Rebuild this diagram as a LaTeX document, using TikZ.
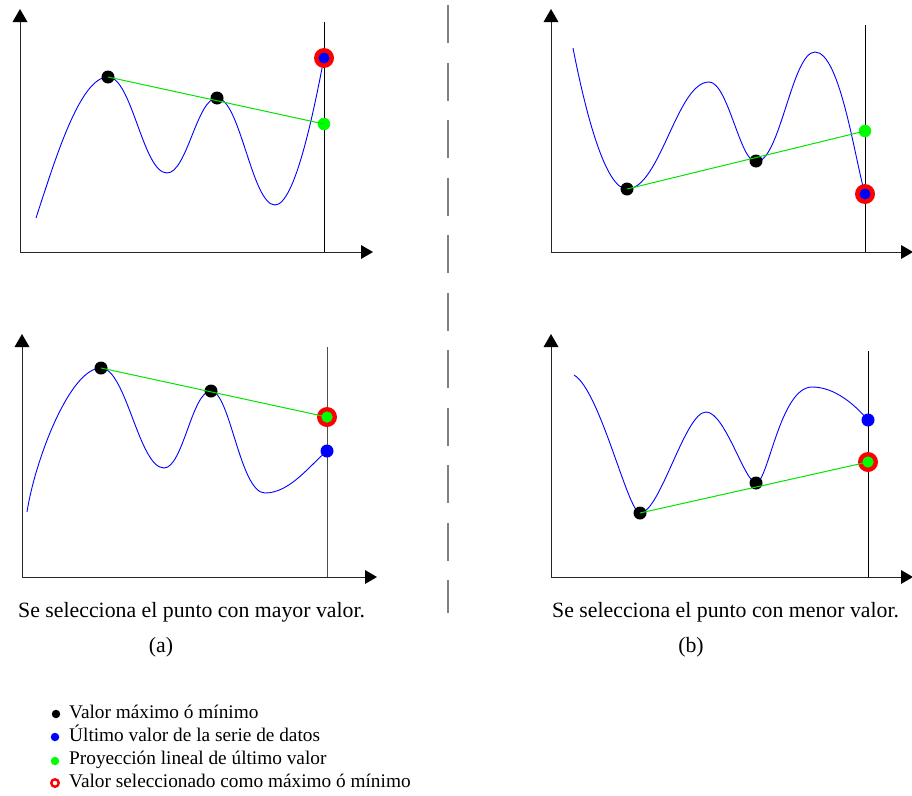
\documentclass[tikz,border=0pt]{standalone}
\usepackage{fontspec}
\setmainfont{Liberation Serif}
\tikzset{
  axisline/.style={draw=black!85, line width=0.9pt},
  arrowhead/.style={fill=black},
  curve/.style={draw=blue, line width=0.9pt},
  projline/.style={draw=green!90!black, line width=1pt},
  blackdot/.style={circle, fill=black, inner sep=0pt, minimum size=13pt},
  bluedot/.style={circle, fill=blue, inner sep=0pt, minimum size=11pt},
  greendot/.style={circle, fill=green, inner sep=0pt, minimum size=12.5pt},
  redring/.style={circle, fill=red, inner sep=0pt, minimum size=20pt},
  captiontext/.style={inner sep=0pt, anchor=base west, font=\fontsize{21.8}{25}\selectfont},
  labeltext/.style={inner sep=0pt, anchor=base, font=\fontsize{21.8}{25}\selectfont},
  legendtext/.style={inner sep=0pt, anchor=base west, font=\fontsize{19.3}{23}\selectfont},
  legdot/.style={circle, inner sep=0pt, minimum size=8.5pt},
}
\begin{document}
\begin{tikzpicture}[x=1pt,y=-1pt]
\useasboundingbox[fill=white] (0,0) rectangle (912,795);

% ---------- separator ----------
\coordinate (sepT) at (448,5);
\coordinate (sepB) at (448,613);
\draw[draw=black!50, line width=1.6pt, dash pattern=on 38pt off 19.5pt] (sepT) -- (sepB);

% ================= Panel (a) top =================
\coordinate (aTo) at (20,252);
\coordinate (aTy) at (20,22);
\coordinate (aTx) at (361,252);
\draw[axisline] (aTy) -- (aTo) -- (aTx);
\fill[arrowhead] (12.5,22) -- (27.5,22) -- (20,9) -- cycle;
\fill[arrowhead] (361,245) -- (361,259) -- (373,252) -- cycle;
\coordinate (aTvt) at (324,22);
\coordinate (aTvb) at (324,252);
\draw[draw=black, line width=0.9pt] (aTvt) -- (aTvb);
\draw[curve] (36,218) .. controls (55,160) and (80,77) .. (108,77)
  .. controls (132,77) and (143,173) .. (167,173)
  .. controls (187,173) and (197,98) .. (217,98)
  .. controls (240,98) and (252,205) .. (275,205)
  .. controls (295,205) and (314,110) .. (324,58);
\node[blackdot] (aT1) at (108,77) {};
\node[blackdot] (aT2) at (217,98) {};
\node[greendot] (aTg) at (324,124) {};
\draw[projline] (aT1.center) -- (aTg.center);
\node[redring] (aTr) at (324,58) {};
\node[bluedot] (aTb) at (324,58) {};

% ================= Panel (b) top =================
\coordinate (bTo) at (551,252);
\coordinate (bTy) at (551,22);
\coordinate (bTx) at (901,252);
\draw[axisline] (bTy) -- (bTo) -- (bTx);
\fill[arrowhead] (543.5,22) -- (558.5,22) -- (551,9) -- cycle;
\fill[arrowhead] (901,245) -- (901,259) -- (913,252) -- cycle;
\coordinate (bTvt) at (865,25);
\coordinate (bTvb) at (865,252);
\draw[draw=black, line width=0.9pt] (bTvt) -- (bTvb);
\draw[curve] (573,48) .. controls (585,110) and (605,189) .. (627,189)
  .. controls (660,189) and (677,82) .. (709,82)
  .. controls (728,82) and (740,162) .. (756,162)
  .. controls (780,162) and (792,52) .. (815,52)
  .. controls (840,52) and (855,160) .. (865,194);
\node[blackdot] (bT1) at (627,189) {};
\node[blackdot] (bT2) at (756,161) {};
\node[greendot] (bTg) at (865,131) {};
\draw[projline] (bT1.center) -- (bTg.center);
\node[redring] (bTr) at (865,194) {};
\node[bluedot] (bTb) at (865,194) {};

% ================= Panel (a) bottom =================
\coordinate (aBo) at (22,577);
\coordinate (aBy) at (22,347);
\coordinate (aBx) at (365,577);
\draw[axisline] (aBy) -- (aBo) -- (aBx);
\fill[arrowhead] (14.5,347) -- (29.5,347) -- (22,334) -- cycle;
\fill[arrowhead] (365,570) -- (365,584) -- (377,577) -- cycle;
\coordinate (aBvt) at (327,347);
\coordinate (aBvb) at (327,577);
\draw[draw=black!70, line width=0.9pt] (aBvt) -- (aBvb);
\draw[curve] (27,512) .. controls (35,460) and (70,368) .. (101,368)
  .. controls (126,368) and (139,468) .. (164,468)
  .. controls (183,468) and (192,391) .. (211,391)
  .. controls (230,391) and (240,493) .. (265,493)
  .. controls (290,493) and (310,465) .. (327,451);
\node[blackdot] (aB1) at (101,368) {};
\node[blackdot] (aB2) at (211,391) {};
\node[bluedot, minimum size=13pt] (aBb) at (327,451) {};
\node[redring] (aBr) at (327,417) {};
\node[greendot, minimum size=11pt] (aBg) at (327,417) {};
\draw[projline] (aB1.center) -- (aBg.center);
\node[greendot, minimum size=11pt] (aBg2) at (327,417) {};

% ================= Panel (b) bottom =================
\coordinate (bBo) at (551,577);
\coordinate (bBy) at (551,347);
\coordinate (bBx) at (901,577);
\draw[axisline] (bBy) -- (bBo) -- (bBx);
\fill[arrowhead] (543.5,347) -- (558.5,347) -- (551,334) -- cycle;
\fill[arrowhead] (901,570) -- (901,584) -- (913,577) -- cycle;
\coordinate (bBvt) at (868,351);
\coordinate (bBvb) at (868,577);
\draw[draw=black, line width=0.9pt] (bBvt) -- (bBvb);
\draw[curve] (574,375) .. controls (600,390) and (628,513) .. (640,513)
  .. controls (660,513) and (685,412) .. (706,412)
  .. controls (725,412) and (745,483) .. (756,483)
  .. controls (768,483) and (780,387) .. (812,387)
  .. controls (835,387) and (855,405) .. (868,420);
\node[blackdot] (bB1) at (640,513) {};
\node[blackdot] (bB2) at (756,483) {};
\node[bluedot, minimum size=13pt] (bBb) at (868,420) {};
\node[redring] (bBr) at (868,462) {};
\node[greendot, minimum size=11pt] (bBg) at (868,462) {};
\draw[projline] (bB1.center) -- (bBg.center);
\node[greendot, minimum size=11pt] (bBg2) at (868,462) {};

% ================= Captions =================
\node[captiontext] (capA) at (18,617) {Se selecciona el punto con mayor valor.};
\node[labeltext] (labA) at (161,652) {(a)};
\node[captiontext] (capB) at (552,617) {Se selecciona el punto con menor valor.};
\node[labeltext] (labB) at (691,652) {(b)};

% ================= Legend =================
\node[legdot, fill=black] (l1) at (56,714) {};
\node[legendtext] (t1) at (69,718) {Valor máximo ó mínimo};
\node[legdot, fill=blue] (l2) at (55,737) {};
\node[legendtext] (t2) at (69,741) {Último valor de la serie de datos};
\node[legdot, fill=green] (l3) at (55,761) {};
\node[legendtext] (t3) at (69,764) {Proyección lineal de último valor};
\node[circle, draw=red, line width=2.4pt, inner sep=0pt, minimum size=7.5pt] (l4) at (55,783) {};
\node[legendtext] (t4) at (69,787) {Valor seleccionado como máximo ó mínimo};
\end{tikzpicture}
\end{document}
